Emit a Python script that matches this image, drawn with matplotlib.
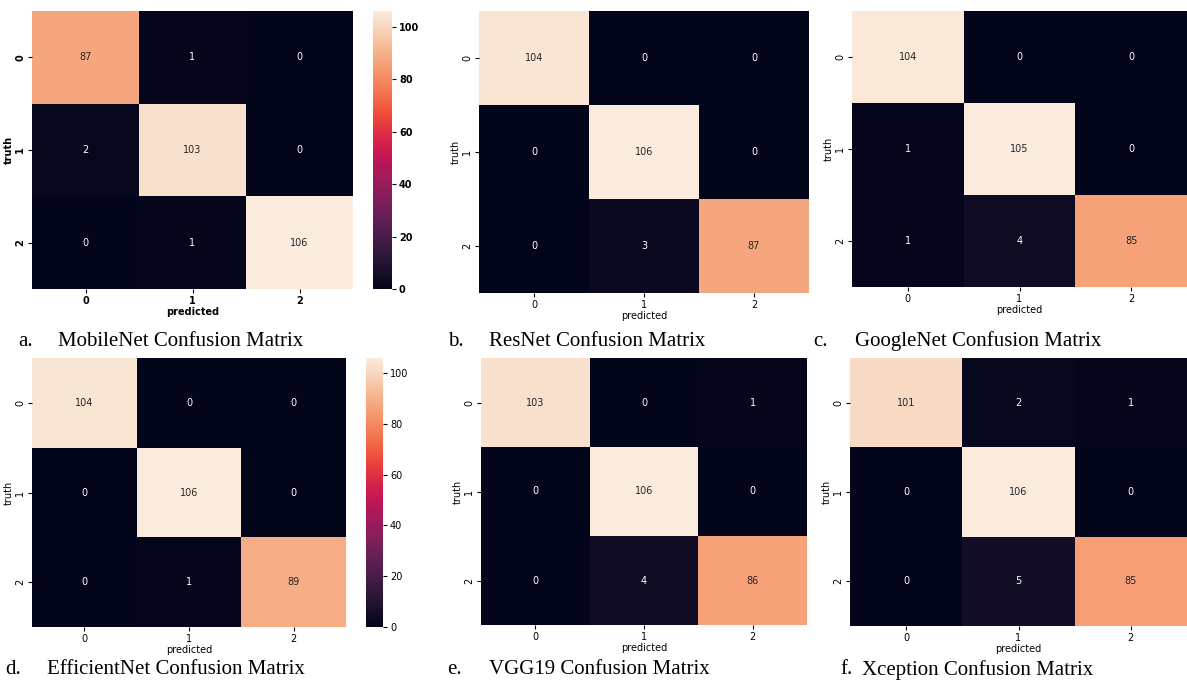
import matplotlib
matplotlib.use("Agg")
import matplotlib.pyplot as plt
import numpy as np
import seaborn as sns

W, H = 1187, 682

CLASS_LABELS = ["0", "1", "2"]

mobilenet = [[87, 1, 0], [2, 103, 0], [0, 1, 106]]
resnet = [[104, 0, 0], [0, 106, 0], [0, 3, 87]]
googlenet = [[104, 0, 0], [1, 105, 0], [1, 4, 85]]
efficientnet = [[104, 0, 0], [0, 106, 0], [0, 1, 89]]
vgg19 = [[103, 0, 1], [0, 106, 0], [0, 4, 86]]
xception = [[101, 2, 1], [0, 106, 0], [0, 5, 85]]

captions = [
    ("a.", "MobileNet Confusion Matrix"),
    ("b.", "ResNet Confusion Matrix"),
    ("c.", "GoogleNet Confusion Matrix"),
    ("d.", "EfficientNet Confusion Matrix"),
    ("e.", "VGG19 Confusion Matrix"),
    ("f.", "Xception Confusion Matrix"),
]

# layout in pixels: heatmap box, colorbar box (or None), caption letter x, name x, caption y
panels = [
    (mobilenet, (32, 11, 353, 289), (373, 11, 392, 289), 18, 58, 341, True),
    (resnet, (479, 11, 809, 293), None, 448, 489, 341, False),
    (googlenet, (852, 11, 1187, 287), None, 813, 855, 341, False),
    (efficientnet, (32, 358, 346, 627), (366, 358, 383, 627), 5, 47, 670, False),
    (vgg19, (481, 358, 807, 625), None, 447, 489, 670, False),
    (xception, (850, 358, 1187, 626), None, 840, 862, 670, False),
]


def px_axes(fig, box):
    x0, y0, x1, y1 = box
    return fig.add_axes([x0 / W, 1 - y1 / H, (x1 - x0) / W, (y1 - y0) / H])


fig = plt.figure(figsize=(W / 100, H / 100), dpi=100)

for (data, hbox, cbox, lx, nx, cy, bold), (letter, name) in zip(panels, captions):
    ax = px_axes(fig, hbox)
    weight = "bold" if bold else "normal"
    kw = dict(annot=True, fmt="d", cmap="rocket", vmin=0,
              xticklabels=CLASS_LABELS, yticklabels=CLASS_LABELS,
              annot_kws={"fontsize": 7})
    if cbox is not None:
        cax = px_axes(fig, cbox)
        sns.heatmap(np.array(data), ax=ax, cbar=True, cbar_ax=cax, **kw)
        cax.tick_params(labelsize=7, length=3, pad=2)
        for t in cax.get_yticklabels():
            t.set_fontweight(weight)
    else:
        sns.heatmap(np.array(data), ax=ax, cbar=False, **kw)
    ax.set_xlabel("predicted", fontsize=7, fontweight=weight, labelpad=1)
    ax.set_ylabel("truth", fontsize=7, fontweight=weight, labelpad=1)
    ax.tick_params(labelsize=7, length=3, pad=2)
    for t in ax.get_xticklabels() + ax.get_yticklabels():
        t.set_fontweight(weight)

    fig.text(lx / W, 1 - cy / H, letter, family="Liberation Serif",
             fontsize=15, va="center", ha="left")
    fig.text(nx / W, 1 - cy / H, name, family="Liberation Serif",
             fontsize=15, va="center", ha="left")

fig.savefig("out.png", dpi=100)
